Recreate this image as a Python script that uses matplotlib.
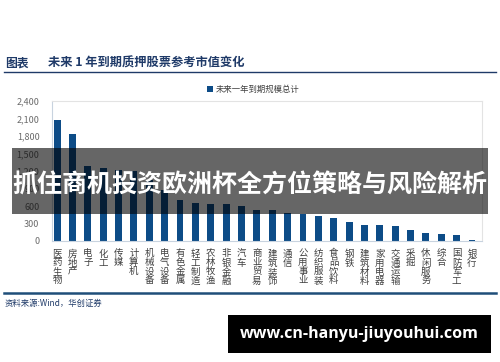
import matplotlib
matplotlib.use("Agg")
import matplotlib.pyplot as plt
from matplotlib.ticker import FuncFormatter

plt.rcParams['font.family'] = ['Noto Sans CJK SC', 'DejaVu Sans']

# ── 数据 ────────────────────────────────────────────────────────────────
industries = ['医药生物', '房地产', '电子', '化工', '传媒', '计算机', '机械设备',
              '电气设备', '有色金属', '轻工制造', '农林牧渔', '非银金融', '汽车',
              '商业贸易', '建筑装饰', '通信', '公用事业', '纺织服装', '食品饮料',
              '钢铁', '建筑材料', '家用电器', '交通运输', '采掘', '休闲服务',
              '综合', '国防军工', '银行']
market_value = [2080, 1830, 1290, 1250, 1220, 1195, 1050,
                870, 710, 653, 630, 630, 601,
                539, 539, 480, 470, 423, 389,
                325, 280, 280, 256, 187, 141,
                118, 95, 15]
series_name = '未来一年到期规模总计'
y_ticks = [0, 300, 600, 900, 1200, 1500, 1800, 2100, 2400]

title_tag = '图表'
title_text = '未来 1 年到期质押股票参考市值变化'
source_text = '资料来源:Wind，华创证券'
banner_text = '抓住商机投资欧洲杯全方位策略与风险解析'
site_text = 'www.cn-hanyu-jiuyouhui.com'

W, H = 500, 362
navy = '#1f3a68'
bar_color = '#0d4c87'

fig = plt.figure(figsize=(W / 100, H / 100), dpi=100)
fig.patch.set_facecolor('white')


def fx(px):
    return px / W


def fy(py):
    return 1 - py / H


# ── 主图 ─────────────────────────────────────────────────────────────────
ax = fig.add_axes([fx(52), fy(241), fx(482) - fx(52), fy(101) - fy(241)])
x = list(range(len(industries)))
bars = ax.bar(x, market_value, width=0.45, color=bar_color, label=series_name)
ax.set_xlim(-0.33, 27.65)
ax.set_ylim(0, 2400)
ax.set_yticks(y_ticks)
ax.yaxis.set_major_formatter(FuncFormatter(lambda v, p: f'{int(v):,}'))
ax.tick_params(axis='y', length=0, pad=9, labelsize=6.5, labelcolor='#6b6b6b')
ax.set_xticks(x)
ax.set_xticklabels(['\n'.join(s) for s in industries], fontsize=6.8,
                   color='#404040', linespacing=1.0, va='top')
ax.tick_params(axis='x', length=0, pad=6)
for side in ['top', 'right']:
    ax.spines[side].set_color('#e3e3e3')
for side in ['left', 'bottom']:
    ax.spines[side].set_color('#c8d3df')
for s in ax.spines.values():
    s.set_linewidth(0.8)

fig.legend(handles=[bars], labels=[series_name], loc='center',
           bbox_to_anchor=(fx(253), fy(89)), frameon=False, fontsize=6,
           handlelength=0.7, handleheight=0.7, handletextpad=0.3,
           labelcolor='#404040')

# ── 标题 / 来源 ─────────────────────────────────────────────────────────
fig.text(fx(5), fy(63), title_tag, fontsize=8.5, fontweight='bold', color=navy,
         va='center', ha='left')
fig.text(fx(48), fy(63), title_text, fontsize=8.8, fontweight='bold', color=navy,
         va='center', ha='left')
fig.add_artist(plt.Line2D([fx(4), fx(496)], [fy(72), fy(72)], color=navy, lw=1.0))
fig.add_artist(plt.Line2D([fx(4), fx(496)], [fy(293), fy(293)], color='#1f4e79', lw=1.8))
fig.text(fx(5), fy(303), source_text, fontsize=6, color=navy, va='center',
         ha='left', style='italic')

# ── 水印横幅 ─────────────────────────────────────────────────────────────
fig.add_artist(plt.Rectangle((fx(12), fy(214)), fx(488) - fx(12), fy(148) - fy(214),
                             transform=fig.transFigure, color='black', alpha=0.6,
                             lw=0))
fig.text(fx(250), fy(186), banner_text, fontsize=18, fontweight='bold',
         color='white', ha='center', va='center')

fig.add_artist(plt.Rectangle((fx(228), fy(353)), fx(491) - fx(228), fy(315) - fy(353),
                             transform=fig.transFigure, color='black', lw=0))
fig.text(fx(359), fy(334), site_text, fontsize=11.5, fontweight='bold',
         color='white', ha='center', va='center', family=['Open Sans', 'DejaVu Sans'])

fig.savefig('out.png', dpi=100, facecolor='white')
